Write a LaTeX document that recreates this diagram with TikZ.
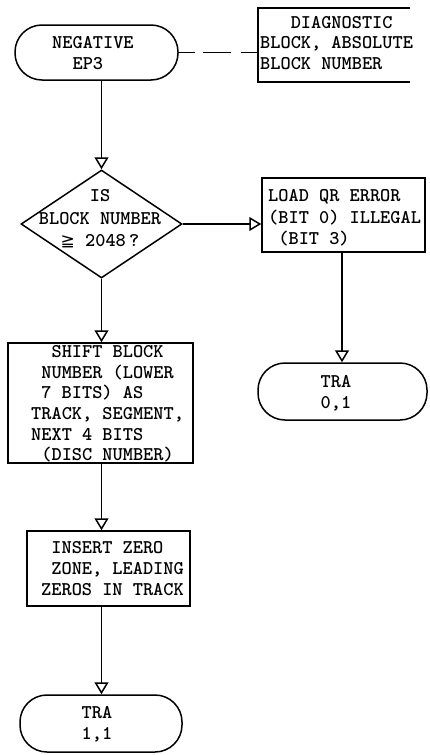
\documentclass[tikz,border=0pt]{standalone}
\usepackage{fontspec}
\newfontfamily\symf{DejaVu Sans}
\usetikzlibrary{arrows.meta,shapes.geometric}
\newcommand\twfont[1]{\ttfamily\bfseries\fontsize{19.4}{#1}\selectfont}
\begin{document}
\begin{tikzpicture}[x=1pt,y=-1pt,
  shp/.style={draw, line width=1.5pt, inner sep=0pt},
  term/.style={shp, rounded corners=27pt},
  txt/.style={inner sep=0pt, font=\twfont{20.6}},
  arr/.style={line width=1.5pt, -{Triangle[open, length=12pt, width=14pt]}}]
\useasboundingbox (0,0) rectangle (429,755);
% shapes
\node[term, minimum width=163pt, minimum height=55pt] (start) at (96.5,52.5) {};
\node[inner sep=0pt, minimum width=152pt, minimum height=74pt] (note) at (334,45) {};
\node[shp, diamond, minimum width=161pt, minimum height=108pt] (dia) at (101.5,224) {};
\node[shp, minimum width=163pt, minimum height=74pt] (load) at (343.5,215) {};
\node[term, minimum width=169pt, minimum height=57pt] (tra0) at (342.5,391.5) {};
\node[shp, minimum width=185pt, minimum height=120pt] (shift) at (100.5,403) {};
\node[shp, minimum width=163pt, minimum height=75pt] (insert) at (108.5,568.5) {};
\node[term, minimum width=162pt, minimum height=57pt] (tra1) at (101,723.5) {};
% texts
\node[txt, align=left, anchor=west] (startt) at (52,53) {NEGATIVE\\\hphantom{XX}EP3};
\node[txt, align=left, anchor=west] (notet) at (260,43) {\hphantom{XXX}DIAGNOSTIC\\BLOCK, ABSOLUTE\\BLOCK NUMBER};
\node[txt, align=center, font=\twfont{22.5}] (diat) at (100,219) {IS\\BLOCK NUMBER\\{\symf\mdseries\fontsize{17}{17}\selectfont ≧} 2048\,?};
\node[txt, align=left, anchor=west, font=\twfont{21.5}] (loadt) at (268,218) {LOAD QR ERROR\\(BIT 0) ILLEGAL\\\hphantom{X}(BIT 3)};
\node[txt, align=center] (tra0t) at (336,393) {TRA\\0,1};
\node[txt, align=left, anchor=west] (shiftt) at (31,404) {\hphantom{XX}SHIFT BLOCK\\\hphantom{X}NUMBER (LOWER\\\hphantom{X}7 BITS) AS\\TRACK, SEGMENT,\\NEXT 4 BITS\\\hphantom{X}(DISC NUMBER)};
\node[txt, align=left, anchor=west] (insertt) at (41,568.5) {\hphantom{X}INSERT ZERO\\\hphantom{X}ZONE, LEADING\\ZEROS IN TRACK};
\node[txt, align=center] (tra1t) at (97,724) {TRA\\1,1};
% annotation bracket
\draw[line width=1.5pt] (note.north east) -- (note.north west) -- (note.south west) -- (note.south east);
\draw[line width=1.5pt, dash pattern=on 16pt off 8pt on 28pt off 10pt] (start.east) -- (start.east -| note.west);
% connectors
\draw[arr] (start.south -| dia.north) -- (dia.north);
\draw[arr] (dia.east) -- (dia.east -| load.west);
\draw[arr] (load.south -| 342,0) -- (tra0.north -| 342,0);
\draw[arr] (dia.south) -- (shift.north -| dia.south);
\draw[arr] (shift.south -| dia.south) -- (insert.north -| dia.south);
\draw[arr] (insert.south -| dia.south) -- (tra1.north -| dia.south);
\end{tikzpicture}
\end{document}
